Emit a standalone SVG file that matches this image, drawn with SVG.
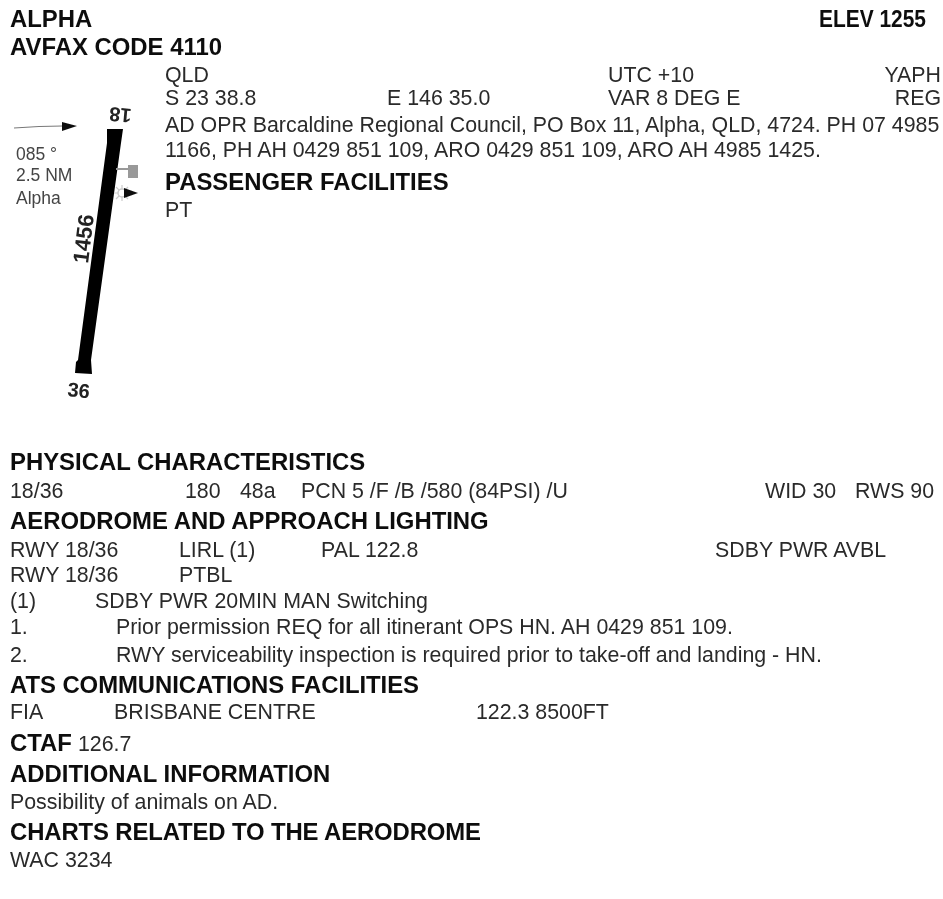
<svg xmlns="http://www.w3.org/2000/svg" width="943" height="899" viewBox="0 0 943 899">
<style>
text{font-family:"Liberation Sans",Arial,sans-serif;fill:#2a2a2a}
.b{font-size:21.35px}
.h{font-size:23.9px;font-weight:bold;fill:#111}
.s{font-size:17.5px;fill:#444}
.r{font-size:20px;font-weight:bold;fill:#222}
</style>
<defs><filter id="soft" x="0" y="0" width="100%" height="100%"><feGaussianBlur stdDeviation="0.35"/></filter></defs>
<rect width="943" height="899" fill="#fff"/>
<g filter="url(#soft)">
<text class="h" x="10" y="27">ALPHA</text>
<text class="h" x="819" y="27" textLength="107" lengthAdjust="spacingAndGlyphs">ELEV 1255</text>
<text class="h" x="10" y="55">AVFAX CODE 4110</text>
<text class="b" x="165" y="82">QLD</text>
<text class="b" x="608" y="82">UTC +10</text>
<text class="b" x="941" y="82" text-anchor="end">YAPH</text>
<text class="b" x="165" y="105">S 23 38.8</text>
<text class="b" x="387" y="105">E 146 35.0</text>
<text class="b" x="608" y="105">VAR 8 DEG E</text>
<text class="b" x="941" y="105" text-anchor="end">REG</text>
<text class="b" x="165" y="132">AD OPR Barcaldine Regional Council, PO Box 11, Alpha, QLD, 4724. PH 07 4985</text>
<text class="b" x="165" y="157">1166, PH AH 0429 851 109, ARO 0429 851 109, ARO AH 4985 1425.</text>
<text class="h" x="165" y="190">PASSENGER FACILITIES</text>
<text class="b" x="165" y="217">PT</text>

<g id="runway">
<path d="M14 128 Q40 126 62 126" fill="none" stroke="#777" stroke-width="1"/>
<path d="M62 122 L77 126 L62 131 Z" fill="#111"/>
<text class="s" x="16" y="160">085 °</text>
<text class="s" x="16" y="181">2.5 NM</text>
<text class="s" x="16" y="204">Alpha</text>
<text class="r" transform="translate(132 109) rotate(185)">18</text>
<path d="M107 129 L123 129 L121 143 L91 360 L92 374 L75 373 L76 362 L78 360 L107 143 Z" fill="#000"/>
<text class="r" transform="translate(67 396) rotate(6)">36</text>
<text class="r" transform="translate(88 264) rotate(-83)" style="font-size:22px">1456</text>
<path d="M116 169 H129" stroke="#999" stroke-width="2"/>
<rect x="128" y="165" width="10" height="13" fill="#999"/>
<g stroke="#ccc" stroke-width="1.2"><path d="M122 185V201M114 193H120M116 187L128 199M116 199L128 187"/></g>
<circle cx="122" cy="193" r="4" fill="#fff" stroke="#ccc" stroke-width="1.5"/>
<path d="M124 188 L138 193 L124 198 Z" fill="#111"/>
</g>

<text class="h" x="10" y="470">PHYSICAL CHARACTERISTICS</text>
<text class="b" x="10" y="498">18/36</text>
<text class="b" x="185" y="498">180</text>
<text class="b" x="240" y="498">48a</text>
<text class="b" x="301" y="498">PCN 5 /F /B /580 (84PSI) /U</text>
<text class="b" x="765" y="498">WID 30</text>
<text class="b" x="855" y="498">RWS 90</text>
<text class="h" x="10" y="529">AERODROME AND APPROACH LIGHTING</text>
<text class="b" x="10" y="557">RWY 18/36</text>
<text class="b" x="179" y="557">LIRL (1)</text>
<text class="b" x="321" y="557">PAL 122.8</text>
<text class="b" x="715" y="557">SDBY PWR AVBL</text>
<text class="b" x="10" y="582">RWY 18/36</text>
<text class="b" x="179" y="582">PTBL</text>
<text class="b" x="10" y="608">(1)</text>
<text class="b" x="95" y="608">SDBY PWR 20MIN MAN Switching</text>
<text class="b" x="10" y="634">1.</text>
<text class="b" x="116" y="634">Prior permission REQ for all itinerant OPS HN. AH 0429 851 109.</text>
<text class="b" x="10" y="662">2.</text>
<text class="b" x="116" y="662">RWY serviceability inspection is required prior to take-off and landing - HN.</text>
<text class="h" x="10" y="693" textLength="409">ATS COMMUNICATIONS FACILITIES</text>
<text class="b" x="10" y="719">FIA</text>
<text class="b" x="114" y="719">BRISBANE CENTRE</text>
<text class="b" x="476" y="719">122.3 8500FT</text>
<text class="h" x="10" y="751">CTAF</text><text class="b" x="78" y="751">126.7</text>
<text class="h" x="10" y="782">ADDITIONAL INFORMATION</text>
<text class="b" x="10" y="809">Possibility of animals on AD.</text>
<text class="h" x="10" y="840" textLength="471">CHARTS RELATED TO THE AERODROME</text>
<text class="b" x="10" y="867">WAC 3234</text>
</g>
</svg>
